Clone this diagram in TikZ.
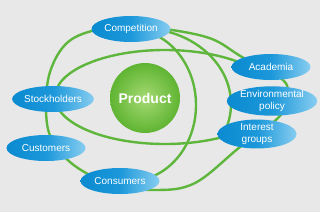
\documentclass[tikz,border=0pt]{standalone}
\usepackage{fontspec}
\setmainfont{Liberation Sans}
\usetikzlibrary{shapes.geometric}
\definecolor{bg}{RGB}{232,232,232}
\definecolor{lg}{RGB}{95,182,60}
\definecolor{nL}{RGB}{10,138,208}
\definecolor{nM}{RGB}{28,152,218}
\definecolor{nR}{RGB}{135,205,240}
\definecolor{pIn}{RGB}{165,218,115}
\definecolor{pOut}{RGB}{95,180,50}
\begin{document}
\begin{tikzpicture}[x=1pt,y=-1pt,
  loopline/.style={draw=lg,line width=2.4pt},
  party/.style={ellipse,minimum width=79pt,minimum height=26pt,inner sep=0pt,
    left color=nL,right color=nR,middle color=nM,text=white,
    font=\fontsize{10}{11.5}\selectfont,align=center},
  prodstyle/.style={circle,minimum size=70pt,inner sep=0pt,shading=radial,
    inner color=pIn,outer color=pOut,text=white,font=\fontsize{14}{16}\selectfont\bfseries}
]
\useasboundingbox (0,0) rectangle (320,212);
\fill[bg] (0,0) rectangle (320,212);
% loops
\draw[loopline] plot[smooth cycle,tension=0.6] coordinates {
  (135,27) (172,30) (212,39) (242,57) (283,80) (287,99) (278,118) (240,147)
  (195,183) (155,190) (112,184) (75,166) (52,140) (46,110) (50,72) (68,42) (100,29)};
\coordinate (c2) at (165,97);
\coordinate (c3) at (130,105);
\coordinate (c4) at (140,104);
\draw[loopline] (c2) ++(45:110 and 47) arc[start angle=45,end angle=318,x radius=110,y radius=47];
\draw[loopline] (c3) ++(-90:66 and 76) arc[start angle=-90,end angle=90,x radius=66,y radius=76];
\draw[loopline] (c4) ++(-90:91 and 76) arc[start angle=-90,end angle=22,x radius=91,y radius=76];
% nodes
\node[prodstyle] (prod) at (145,98) {Product};
\node[party] (comp) at (131,29) {Competition};
\node[party] (stock) at (53,99) {Stockholders};
\node[party] (cust) at (46,148) {Customers};
\node[party] (cons) at (120,181) {Consumers};
\node[party] (acad) at (271,67) {Academia};
\node[party] (env) at (272,101) {Environmental\\policy};
\node[party] (inter) at (257,134) {Interest\\groups};
\end{tikzpicture}
\end{document}
